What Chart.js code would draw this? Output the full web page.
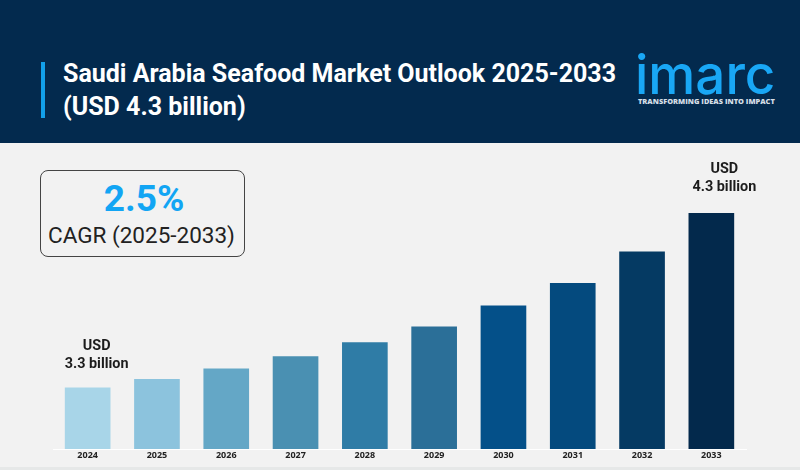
<!DOCTYPE html>
<html>
<head>
<meta charset="utf-8">
<title>Saudi Arabia Seafood Market Outlook</title>
<script src="https://cdn.jsdelivr.net/npm/chart.js@4"></script>
<style>
html, body { margin: 0; padding: 0; }
body { width: 800px; height: 470px; overflow: hidden; position: relative; background: #f2f2f2; font-family: Roboto, sans-serif; }
#myChart { position: absolute; left: 0; top: 0; }
.header { position: absolute; left: 0; top: 0; width: 800px; height: 143px; background: #032a4e; }
.accent { position: absolute; left: 41px; top: 62px; width: 4px; height: 56px; background: #12a0ea; }
.title { position: absolute; left: 63px; top: 57px; color: #fff; font-weight: 700; font-size: 25px; line-height: 33px; white-space: nowrap; }
.logo { position: absolute; left: 635px; top: 45px; color: #19a7f5; font-family: Inter, sans-serif; font-weight: 500; font-size: 54px; line-height: 60px; transform-origin: left top; transform: scaleX(0.98); }
.tagline { position: absolute; left: 638px; top: 96px; color: #d5dee6; font-family: "Open Sans", sans-serif; font-weight: 800; font-size: 7.4px; line-height: 10px; white-space: nowrap; }
.cagr { position: absolute; left: 40px; top: 170px; width: 203px; height: 85px; border: 1.5px solid #444; border-radius: 8px; text-align: center; }
.cagr .pct { position: absolute; left: 3px; right: 0; top: 8px; color: #12a5f4; font-weight: 700; font-size: 37px; line-height: 40px; }
.cagr .lbl { position: absolute; left: -2px; right: 0; top: 50px; color: #222; font-size: 22.5px; line-height: 28px; white-space: nowrap; }
.bottom { position: absolute; left: 0; top: 467px; width: 800px; height: 3px; background: #e6e8e8; }
</style>
</head>
<body>
<div class="header"></div>
<div class="accent"></div>
<div class="title">Saudi Arabia Seafood Market Outlook 2025-2033<br>(USD 4.3 billion)</div>
<div class="logo">imarc</div>
<div class="tagline">TRANSFORMING IDEAS INTO IMPACT</div>
<div class="cagr"><div class="pct">2.5%</div><div class="lbl">CAGR (2025-2033)</div></div>
<div class="bottom"></div>
<canvas id="myChart" width="800" height="470"></canvas>
<script>
// in USD billion
const years = ['2024', '2025', '2026', '2027', '2028', '2029', '2030', '2031', '2032', '2033'];
const market_size = [3.3, 3.35, 3.41, 3.48, 3.56, 3.65, 3.77, 3.9, 4.08, 4.3];
const bar_colors = ['#a8d5e8', '#8cc3dd', '#64a7c6', '#4a90b2', '#2f7ca6', '#2b6f98', '#045089', '#044a7e', '#053a63', '#03294c'];

// "USD / x billion" captions over the first and last bar
const callouts = [
    { index: 0, lines: ['USD', '3.3 billion'], shift: 9, lift: 20 },
    { index: 9, lines: ['USD', '4.3 billion'], shift: 13, lift: 22 }
];

const callout_plugin = {
    id: 'callouts',
    afterDatasetsDraw(chart) {
        const ctx = chart.ctx;
        const bars = chart.getDatasetMeta(0).data;
        ctx.save();
        ctx.font = '700 14.4px Roboto, sans-serif';
        ctx.fillStyle = '#1c1c1c';
        ctx.textAlign = 'center';
        ctx.textBaseline = 'alphabetic';
        callouts.forEach(function(c) {
            const bar = bars[c.index];
            ctx.fillText(c.lines[0], bar.x + c.shift, bar.y - c.lift - 18);
            ctx.fillText(c.lines[1], bar.x + c.shift, bar.y - c.lift);
        });
        ctx.restore();
    }
};

var ctx = document.getElementById('myChart').getContext('2d');
var chart = new Chart(ctx, {
    type: 'bar',
    data: {
        labels: years,
        datasets: [{
            data: market_size,
            backgroundColor: bar_colors,
            barThickness: 45
        }]
    },
    plugins: [callout_plugin],
    options: {
        responsive: false,
        animation: false,
        layout: { padding: { left: 53, right: 54, top: 196, bottom: 0 } },
        plugins: { legend: { display: false }, tooltip: { enabled: false } },
        scales: {
            x: {
                grid: { display: false, drawTicks: false },
                border: { display: true, color: '#ffffff', width: 1 },
                ticks: { color: '#222222', font: { family: '"Noto Sans", sans-serif', weight: '700', size: 9 }, padding: 1, maxRotation: 0 },
                afterFit(scale) { scale.height = 21; }
            },
            y: { display: false, min: 2.95, max: 4.4 }
        }
    }
});
</script>
</body>
</html>
